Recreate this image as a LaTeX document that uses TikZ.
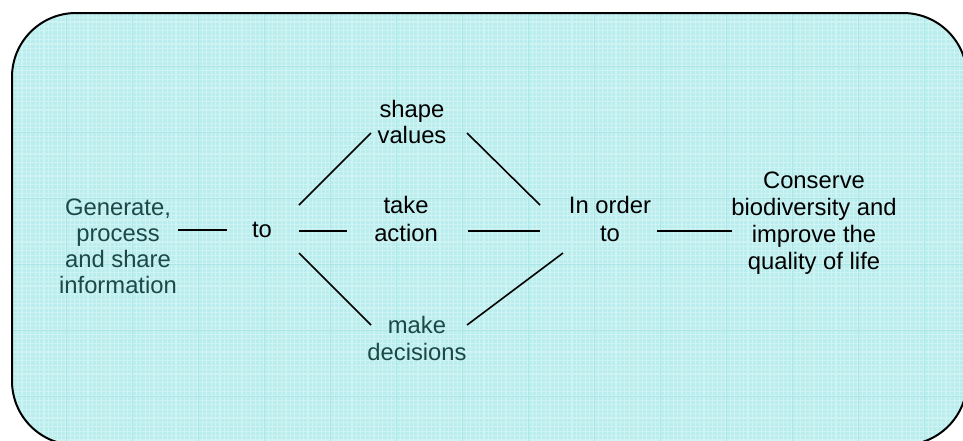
\documentclass[tikz,border=0pt]{standalone}
\usepackage{fontspec}
\setmainfont{Liberation Sans}
\begin{document}
\definecolor{panelfill}{RGB}{186,237,237}
\definecolor{gridlight}{RGB}{226,249,249}
\definecolor{gridline}{RGB}{150,222,222}
\definecolor{tealtext}{RGB}{28,72,72}
\tikzset{
  label text/.style={font=\fontsize{23.8}{27}\selectfont, align=center, inner sep=0pt, anchor=base, text=black},
  teal label/.style={label text, text=tealtext},
  link/.style={line width=1.6pt, black},
}
\begin{tikzpicture}[x=1pt, y=-1pt]
  \useasboundingbox (0,0) rectangle (963,440);
  % rounded panel with fine grid texture
  \begin{scope}
    \clip[rounded corners=64pt] (12,13) rectangle (967,445);
    \fill[panelfill] (0,0) rectangle (970,450);
    \draw[gridlight, line width=1.2pt, opacity=0.55] (0,0) grid[step=4.4pt] (970,450);
    \draw[gridline, line width=0.8pt, opacity=0.6] (0,0) grid[step=66pt] (970,450);
  \end{scope}
  \draw[line width=2pt, black, rounded corners=64pt] (12,13) rectangle (967,445);

  % text blocks (placed by the baseline of their last line)
  \node[teal label, font=\fontsize{23.8}{26}\selectfont] (gen) at (118,293) {Generate,\\process\\and share\\information};
  \node[label text] (to) at (262,237) {to};
  \node[label text, font=\fontsize{23.8}{26}\selectfont] (shape) at (412,143) {shape\\values};
  \node[label text, font=\fontsize{23.8}{28}\selectfont] (take) at (406,241) {take\\action};
  \node[teal label] (make) at (417,360) {make\\decisions};
  \node[label text, font=\fontsize{23.8}{28}\selectfont] (inorder) at (610,241) {In order\\to};
  \node[label text] (goal) at (814,269) {Conserve\\biodiversity and\\improve the\\quality of life};

  % connector end points
  \coordinate (genR) at (178,230);
  \coordinate (toL) at (227,230);
  \coordinate (toR) at (299,231);
  \coordinate (toNE) at (299,205);
  \coordinate (toSE) at (299,253);
  \coordinate (shapeSW) at (371,133);
  \coordinate (shapeSE) at (467,133);
  \coordinate (takeL) at (347,231);
  \coordinate (takeR) at (468,231);
  \coordinate (makeNW) at (371,325);
  \coordinate (makeNE) at (467,325);
  \coordinate (inNW) at (540,205);
  \coordinate (inL) at (540,231);
  \coordinate (inSW) at (563,253);
  \coordinate (inR) at (657,231);
  \coordinate (goalL) at (732,231);

  % connectors
  \draw[link] (genR) -- (toL);
  \draw[link] (toR) -- (takeL);
  \draw[link] (toNE) -- (shapeSW);
  \draw[link] (toSE) -- (makeNW);
  \draw[link] (shapeSE) -- (inNW);
  \draw[link] (takeR) -- (inL);
  \draw[link] (makeNE) -- (inSW);
  \draw[link] (inR) -- (goalL);
\end{tikzpicture}
\end{document}
